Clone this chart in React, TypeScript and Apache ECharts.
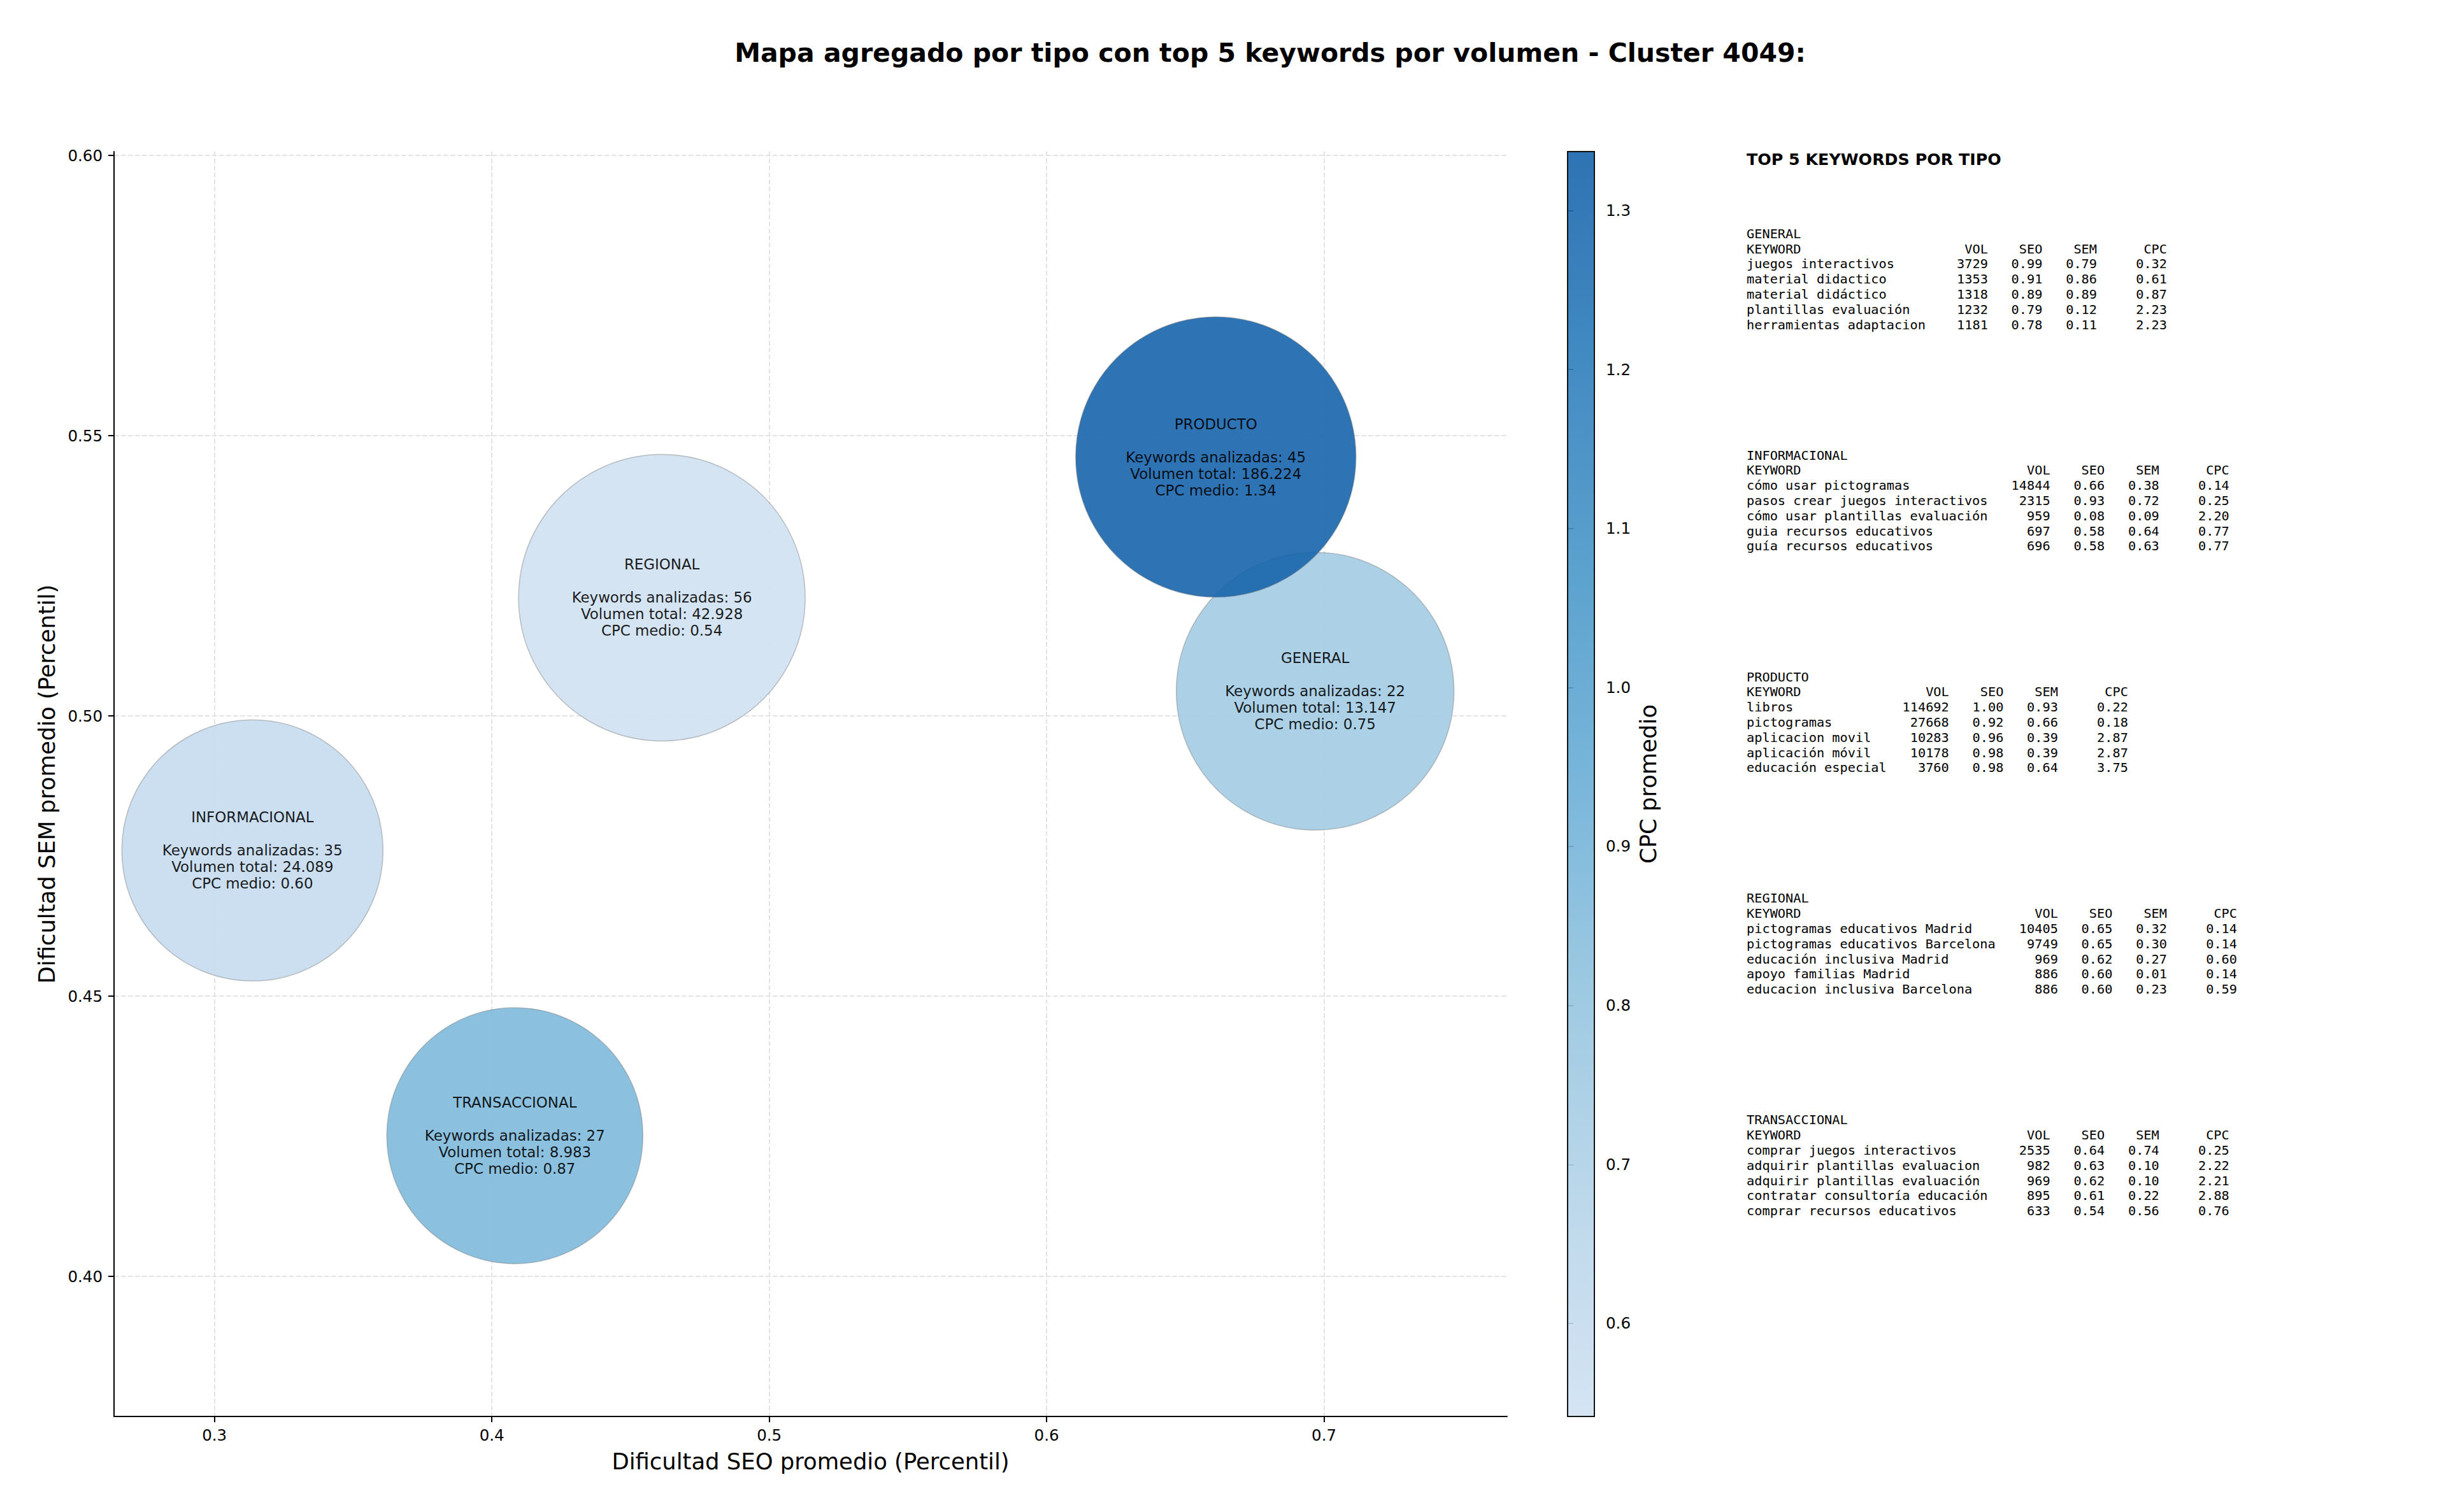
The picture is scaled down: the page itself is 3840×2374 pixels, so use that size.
import React, { useEffect, useRef } from 'react';
import * as echarts from 'echarts';

// ---------- data ----------
const types = ['GENERAL', 'INFORMACIONAL', 'PRODUCTO', 'REGIONAL', 'TRANSACCIONAL'];
const seoMean = [0.6968, 0.3137, 0.661, 0.4613, 0.4083];
const semMean = [0.5044, 0.476, 0.5462, 0.5211, 0.4251];
const keywordCount = [22, 35, 45, 56, 27];
const totalVolume = [13147, 24089, 186224, 42928, 8983];
const cpcMean = [0.75, 0.6, 1.337, 0.5415, 0.87];

const xTicks = [0.3, 0.4, 0.5, 0.6, 0.7];
const yTicks = [0.4, 0.45, 0.5, 0.55, 0.6];
const cbTicks = [0.6, 0.7, 0.8, 0.9, 1.0, 1.1, 1.2, 1.3];
const xRange = [0.2638, 0.766];
const yRange = [0.375, 0.6007];

type Row = [string, number, number, number, number];
const topGeneral: Row[] = [
  ['juegos interactivos', 3729, 0.99, 0.79, 0.32],
  ['material didactico', 1353, 0.91, 0.86, 0.61],
  ['material didáctico', 1318, 0.89, 0.89, 0.87],
  ['plantillas evaluación', 1232, 0.79, 0.12, 2.23],
  ['herramientas adaptacion', 1181, 0.78, 0.11, 2.23],
];
const topInformacional: Row[] = [
  ['cómo usar pictogramas', 14844, 0.66, 0.38, 0.14],
  ['pasos crear juegos interactivos', 2315, 0.93, 0.72, 0.25],
  ['cómo usar plantillas evaluación', 959, 0.08, 0.09, 2.2],
  ['guia recursos educativos', 697, 0.58, 0.64, 0.77],
  ['guía recursos educativos', 696, 0.58, 0.63, 0.77],
];
const topProducto: Row[] = [
  ['libros', 114692, 1.0, 0.93, 0.22],
  ['pictogramas', 27668, 0.92, 0.66, 0.18],
  ['aplicacion movil', 10283, 0.96, 0.39, 2.87],
  ['aplicación móvil', 10178, 0.98, 0.39, 2.87],
  ['educación especial', 3760, 0.98, 0.64, 3.75],
];
const topRegional: Row[] = [
  ['pictogramas educativos Madrid', 10405, 0.65, 0.32, 0.14],
  ['pictogramas educativos Barcelona', 9749, 0.65, 0.3, 0.14],
  ['educación inclusiva Madrid', 969, 0.62, 0.27, 0.6],
  ['apoyo familias Madrid', 886, 0.6, 0.01, 0.14],
  ['educacion inclusiva Barcelona', 886, 0.6, 0.23, 0.59],
];
const topTransaccional: Row[] = [
  ['comprar juegos interactivos', 2535, 0.64, 0.74, 0.25],
  ['adquirir plantillas evaluacion', 982, 0.63, 0.1, 2.22],
  ['adquirir plantillas evaluación', 969, 0.62, 0.1, 2.21],
  ['contratar consultoría educación', 895, 0.61, 0.22, 2.88],
  ['comprar recursos educativos', 633, 0.54, 0.56, 0.76],
];
const tableGroups: { name: string; rows: Row[] }[] = [
  { name: 'GENERAL', rows: topGeneral },
  { name: 'INFORMACIONAL', rows: topInformacional },
  { name: 'PRODUCTO', rows: topProducto },
  { name: 'REGIONAL', rows: topRegional },
  { name: 'TRANSACCIONAL', rows: topTransaccional },
];

// ---------- styles ----------
const BLUES = ['#d0e1f2', '#b6d4e9', '#94c4df', '#6baed6', '#4a98c9', '#2e7ebc', '#1764ab'];
const bubbleDiam = [436, 410, 440, 450, 402];
const SANS = '"DejaVu Sans", sans-serif';
const MONO = '"DejaVu Sans Mono", monospace';
const TICK_SIZE = 24.5;

const fmtThousands = (n: number) => String(n).replace(/\B(?=(\d{3})+(?!\d))/g, '.');

export default function App() {
  const ref = useRef<HTMLDivElement>(null);
  useEffect(() => {
    if (!ref.current) return;
    const chart = echarts.init(ref.current, undefined, { renderer: 'svg' });
    const cbMin = Math.min(...cpcMean);
    const cbMax = Math.max(...cpcMean);

    const graphics: any[] = [];
    const txt = (text: string, x: number, y: number, size: number, family: string, weight: string, align: string) => ({
      type: 'text',
      x,
      y,
      silent: true,
      style: {
        text,
        fontSize: size,
        fontFamily: family,
        fontWeight: weight,
        fill: '#000',
        textAlign: align,
        textVerticalAlign: 'middle',
        align,
        verticalAlign: 'middle',
      },
    });
    graphics.push(
      txt('Mapa agregado por tipo con top 5 keywords por volumen - Cluster 4049:', 1994, 83, 41, SANS, 'bold', 'center')
    );
    const x0 = 2742;
    const monoSize = 20.3;
    const cw = monoSize * 0.6021;
    const lh = 23.8;
    graphics.push(txt('TOP 5 KEYWORDS POR TIPO', x0, 250, 25.3, SANS, 'bold', 'left'));
    tableGroups.forEach((g, gi) => {
      const y0 = 366.7 + gi * 347.9;
      const L = Math.max(7, ...g.rows.map((r) => r[0].length));
      const cols = [L + 8, L + 15, L + 22, L + 31].map((c) => x0 + c * cw);
      graphics.push(txt(g.name, x0, y0, monoSize, MONO, 'normal', 'left'));
      const header = ['VOL', 'SEO', 'SEM', 'CPC'];
      graphics.push(txt('KEYWORD', x0, y0 + lh, monoSize, MONO, 'normal', 'left'));
      header.forEach((h, i) => graphics.push(txt(h, cols[i], y0 + lh, monoSize, MONO, 'normal', 'right')));
      g.rows.forEach((r, ri) => {
        const y = y0 + (ri + 2) * lh;
        graphics.push(txt(r[0], x0, y, monoSize, MONO, 'normal', 'left'));
        const vals = [String(r[1]), r[2].toFixed(2), r[3].toFixed(2), r[4].toFixed(2)];
        vals.forEach((v, i) => graphics.push(txt(v, cols[i], y, monoSize, MONO, 'normal', 'right')));
      });
    });

    const axisCommon = {
      axisLine: { show: true, onZero: false, lineStyle: { color: '#000', width: 2 } },
      splitLine: { show: true, lineStyle: { color: '#e3e3e3', width: 2, type: [7.5, 3.5] } },
      nameLocation: 'middle',
      nameTextStyle: { fontSize: 35.4, color: '#000', fontFamily: SANS },
      nameMoveOverlap: false,
    };

    chart.setOption({
      animation: false,
      backgroundColor: '#ffffff',
      grid: [
        { left: 179, top: 238, width: 2187, height: 1986, outerBoundsMode: 'none', containLabel: false },
        { left: 2461, top: 238, width: 42, height: 1986, outerBoundsMode: 'none', containLabel: false },
      ],
      xAxis: [
        {
          ...axisCommon,
          type: 'value',
          gridIndex: 0,
          min: xRange[0],
          max: xRange[1],
          name: 'Dificultad SEO promedio (Percentil)',
          nameGap: 53,
          axisTick: { show: true, customValues: xTicks, length: 9, lineStyle: { color: '#000', width: 2 } },
          axisLabel: {
            customValues: xTicks,
            formatter: (v: number) => v.toFixed(1),
            fontSize: TICK_SIZE,
            margin: 17,
            color: '#000',
            fontFamily: SANS,
          },
        },
        { type: 'value', gridIndex: 1, min: 0, max: 1, show: false },
      ],
      yAxis: [
        {
          ...axisCommon,
          type: 'value',
          gridIndex: 0,
          min: yRange[0],
          max: yRange[1],
          name: 'Dificultad SEM promedio (Percentil)',
          nameGap: 88,
          nameRotate: 90,
          axisTick: { show: true, customValues: yTicks, length: 9, lineStyle: { color: '#000', width: 2 } },
          axisLabel: {
            customValues: yTicks,
            formatter: (v: number) => v.toFixed(2),
            fontSize: TICK_SIZE,
            margin: 18,
            color: '#000',
            fontFamily: SANS,
          },
        },
        {
          type: 'value',
          gridIndex: 1,
          position: 'right',
          min: cbMin,
          max: cbMax,
          name: 'CPC promedio',
          nameLocation: 'middle',
          nameRotate: 90,
          nameGap: 67,
          nameMoveOverlap: false,
          nameTextStyle: { fontSize: 35.4, color: '#000', fontFamily: SANS },
          axisLine: { show: false },
          splitLine: { show: false },
          axisTick: { show: true, customValues: cbTicks, length: 9, lineStyle: { color: '#000', width: 2 } },
          axisLabel: {
            customValues: cbTicks,
            formatter: (v: number) => v.toFixed(1),
            fontSize: TICK_SIZE,
            margin: 18,
            color: '#000',
            fontFamily: SANS,
          },
        },
      ],
      visualMap: {
        type: 'continuous',
        show: false,
        seriesIndex: 0,
        dimension: 2,
        min: cbMin,
        max: cbMax,
        inRange: { color: BLUES },
      },
      series: [
        {
          type: 'scatter',
          xAxisIndex: 0,
          yAxisIndex: 0,
          data: types.map((t, i) => [seoMean[i], semMean[i], cpcMean[i]]),
          symbol: 'circle',
          symbolSize: (_v: any, p: any) => bubbleDiam[p.dataIndex],
          itemStyle: { opacity: 0.9, borderColor: 'rgba(110,110,110,0.45)', borderWidth: 1.5 },
          emphasis: { disabled: true },
          label: {
            show: true,
            position: 'inside',
            formatter: (p: any) => {
              const i = p.dataIndex;
              return `${types[i]}\n\nKeywords analizadas: ${keywordCount[i]}\nVolumen total: ${fmtThousands(
                totalVolume[i]
              )}\nCPC medio: ${cpcMean[i].toFixed(2)}`;
            },
            fontSize: 22.9,
            lineHeight: 26,
            color: '#000',
            fontFamily: SANS,
            align: 'center',
          },
        },
        {
          type: 'custom',
          xAxisIndex: 1,
          yAxisIndex: 1,
          clip: false,
          silent: true,
          data: [[0, cbMin]],
          renderItem: (_params: any, api: any) => {
            const p0 = api.coord([0, cbMin]);
            const p1 = api.coord([1, cbMax]);
            const shape = { x: p0[0], y: p1[1], width: p1[0] - p0[0], height: p0[1] - p1[1] };
            return {
              type: 'group',
              children: [
                {
                  type: 'rect',
                  shape,
                  style: {
                    fill: new echarts.graphic.LinearGradient(
                      0,
                      1,
                      0,
                      0,
                      BLUES.map((c, i) => ({ offset: i / (BLUES.length - 1), color: c }))
                    ),
                    opacity: 0.9,
                  },
                },
                { type: 'rect', shape, style: { fill: 'none', stroke: '#111', lineWidth: 2 } },
              ],
            };
          },
        },
      ],
      graphic: graphics,
    });
    return () => chart.dispose();
  }, []);
  return <div ref={ref} style={{ position: 'fixed', left: 0, top: 0, width: 3840, height: 2374, background: '#fff' }} />;
}
